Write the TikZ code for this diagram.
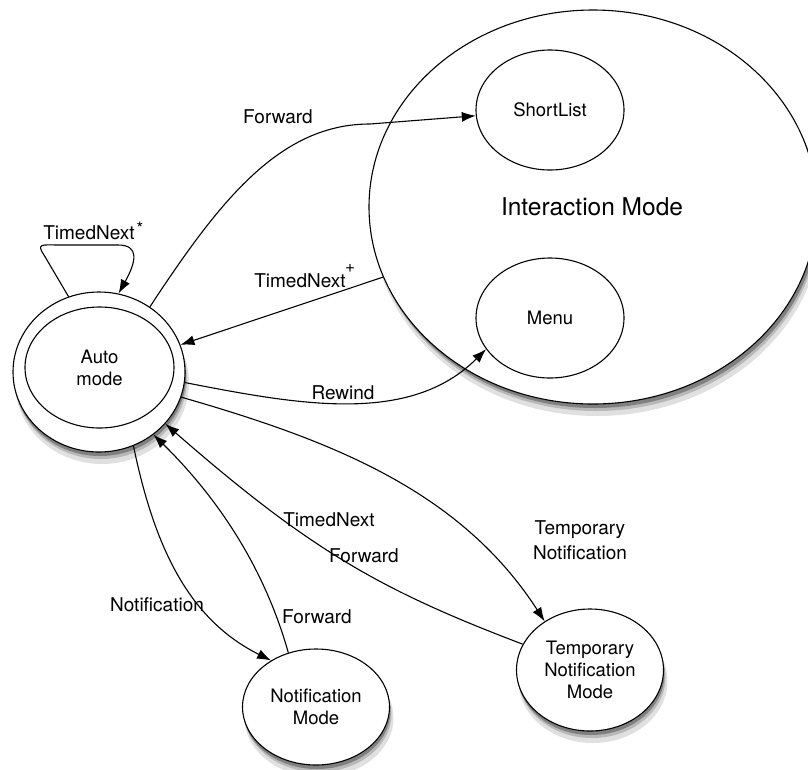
\documentclass[tikz,border=0pt]{standalone}
\usepackage{fontspec}
\setmainfont{TeX Gyre Heros}
\usetikzlibrary{shapes.geometric,arrows.meta}
\begin{document}
\begin{tikzpicture}[x=1pt,y=-1pt,
  shdA/.style={fill=black!12},
  shdB/.style={fill=black!28},
  shdC/.style={fill=black!50},
  state/.style={ellipse,draw,line width=1.1pt,fill=white,inner sep=0pt,align=center,
                font=\fontsize{18.5}{22}\selectfont},
  edge/.style={line width=1.1pt,-{Latex[length=14pt,width=10pt]}},
  lbl/.style={font=\fontsize{19}{25}\selectfont,align=center,inner sep=0pt},
  sup/.style={font=\fontsize{17}{17}\selectfont,inner sep=0pt}]
\useasboundingbox (0,0) rectangle (808,769);
% soft shadows
\path[shdA] (597,218) ellipse (225pt and 198pt);
\path[shdB] (596,214) ellipse (224pt and 197pt);
\path[shdC] (595,211) ellipse (224pt and 197pt);
\path[shdA] (102,383) ellipse (87pt and 81pt);
\path[shdB] (101,379) ellipse (86pt and 80pt);
\path[shdC] (100,376) ellipse (86pt and 80pt);
\path[shdA] (319,718) ellipse (74.5pt and 59pt);
\path[shdB] (318,714) ellipse (73.5pt and 58pt);
\path[shdC] (317,711) ellipse (73.5pt and 58pt);
\path[shdA] (593,681) ellipse (74.5pt and 62pt);
\path[shdB] (592,677) ellipse (73.5pt and 61pt);
\path[shdC] (591,674) ellipse (73.5pt and 61pt);
% Interaction mode
\node[state,minimum width=448pt,minimum height=394pt] (inter) at (593,207) {};
\node[lbl,font=\fontsize{24.5}{28}\selectfont] (intertxt) at (592,207) {Interaction Mode};
\node[state,minimum width=148pt,minimum height=120pt] (short) at (550,110) {ShortList};
\node[state,minimum width=148pt,minimum height=120pt] (menu) at (550,318) {Menu};
% Auto mode
\node[state,minimum width=172pt,minimum height=160pt] (auto) at (99,372) {};
\node[state,minimum width=149pt,minimum height=121pt] (autoin) at (99.5,367.5) {Auto\\mode};
% Notification modes
\node[state,minimum width=147pt,minimum height=116pt] (notif) at (316,707) {Notification\\Mode};
\node[state,minimum width=147pt,minimum height=122pt] (temp) at (590,670) {Temporary\\Notification\\Mode};
% edges
\draw[edge] (auto.52) .. controls (220,200) and (280,124) .. (370,124) -- (short);
\draw[edge] (inter) -- (auto);
\draw[edge] (auto.112) -- (44,255) .. controls (36,243) and (42,245) .. (60,245) -- (118,245)
   .. controls (140,245) and (136,262) .. (auto.76);
\draw[edge] (auto.-7) .. controls (300,405) and (410,425) .. (menu.206);
\draw[edge] (auto.-17) .. controls (330,440) and (460,490) .. (temp.133);
\draw[edge] (temp.159) .. controls (380,590) and (310,550) .. (auto.-38);
\draw[edge] (auto.-65) .. controls (155,550) and (190,620) .. (notif.134);
\draw[edge] (notif.117) .. controls (265,570) and (220,500) .. (auto.-49);
% labels
\node[lbl] (lfwd1) at (278,117) {Forward};
\node[lbl] (ltn1) at (300,281) {TimedNext};
\node[sup] (ltn1s) at (350,268) {+};
\node[lbl] (ltn2) at (89,233) {TimedNext};
\node[sup] (ltn2s) at (140,228) {*};
\node[lbl] (lrew) at (343,393) {Rewind};
\node[lbl] (ltemp) at (580,540) {Temporary\\Notification};
\node[lbl] (ltn3) at (329,520) {TimedNext};
\node[lbl] (lfwd2) at (364,556) {Forward};
\node[lbl] (lnot) at (157,605) {Notification};
\node[lbl] (lfwd3) at (317,617) {Forward};
\end{tikzpicture}
\end{document}
